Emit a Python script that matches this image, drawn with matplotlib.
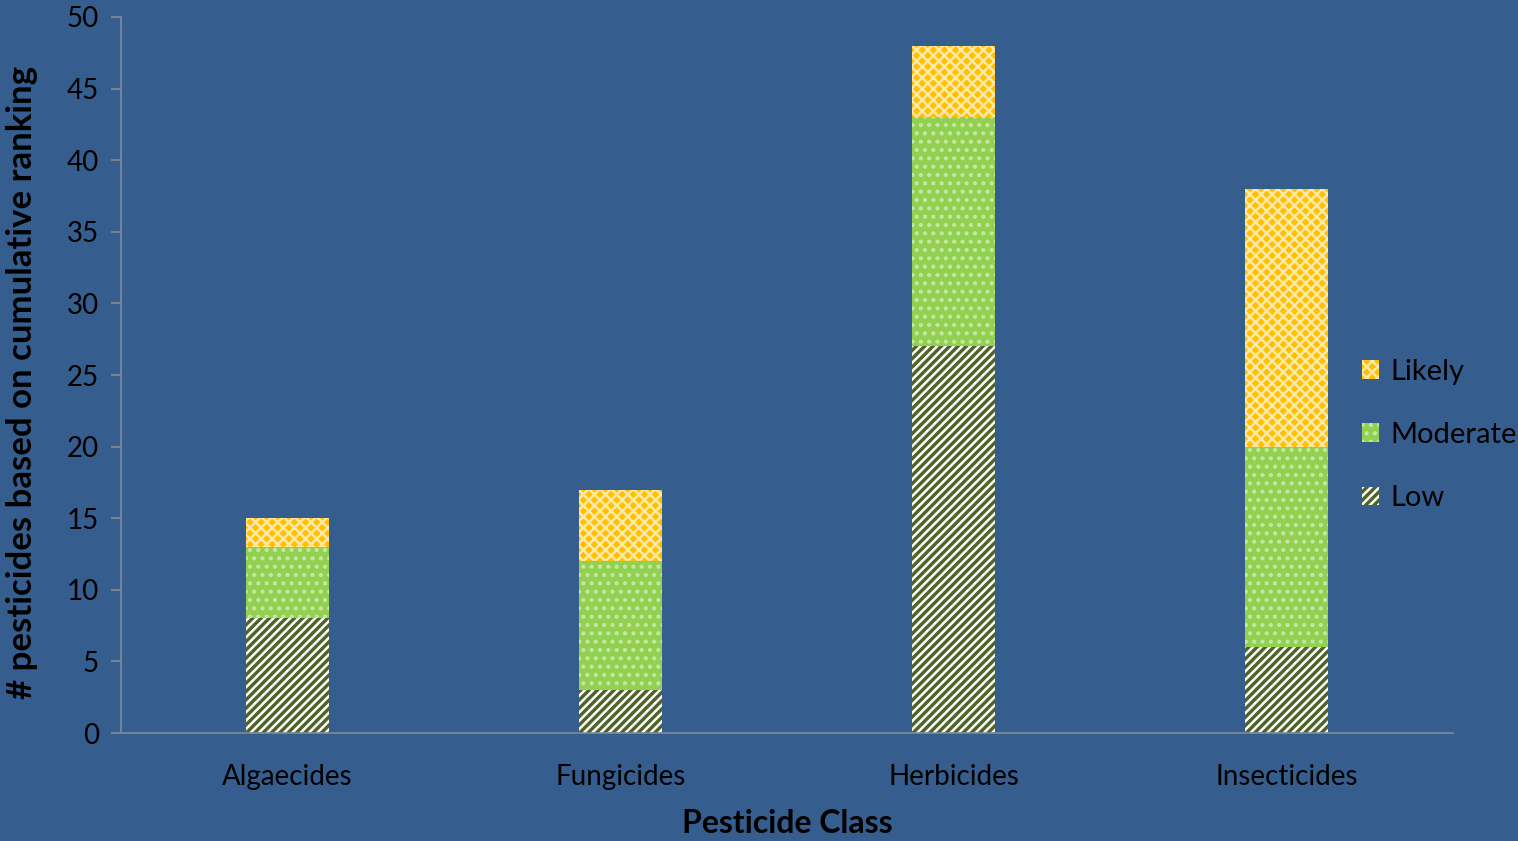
import numpy as np
import matplotlib
matplotlib.use("Agg")
import matplotlib.pyplot as plt

classes = ["Algaecides", "Fungicides", "Herbicides", "Insecticides"]
low = [8, 3, 27, 6]
moderate = [5, 9, 16, 14]
likely = [2, 5, 5, 18]

bg = "#355E8E"
plt.rcParams["font.family"] = ["Lato", "DejaVu Sans"]
plt.rcParams["hatch.linewidth"] = 1.8

fig = plt.figure(figsize=(15.18, 8.41), dpi=100, facecolor=bg)
ax = fig.add_axes([0.0797, 0.1284, 0.8775, 0.8514], facecolor=bg)

x = np.arange(len(classes))
w = 0.25
low_arr = np.array(low)
mod_arr = np.array(moderate)

# stacked bars, white pattern on each fill
b1 = ax.bar(x, low, w, color="#4F6228", edgecolor="white", linewidth=0,
            hatch="////", label="Low")
b2 = ax.bar(x, moderate, w, bottom=low_arr, color="#92D050", edgecolor="#C6E6A4",
            linewidth=0, hatch="..", label="Moderate")
b3 = ax.bar(x, likely, w, bottom=low_arr + mod_arr, color="#FFC000",
            edgecolor="#FFE9A8", linewidth=0, hatch="xxx", label="Likely")

ax.set_xlim(-0.5, 3.5)
ax.set_ylim(0, 50)
ax.set_yticks(range(0, 51, 5))
ax.set_xticks(x)
ax.set_xticklabels(classes)

for side in ["top", "right"]:
    ax.spines[side].set_visible(False)
for side in ["left", "bottom"]:
    ax.spines[side].set_color("#7F8A99")
    ax.spines[side].set_linewidth(1.2)
ax.tick_params(axis="y", colors="#7F8A99", labelcolor="black", labelsize=20,
               length=7, width=1.2, direction="out", pad=9)
ax.tick_params(axis="x", length=0, labelcolor="black", labelsize=20, pad=22)

ax.set_xlabel("Pesticide Class", fontsize=23, fontweight="bold", labelpad=14)
ax.set_ylabel("# pesticides based on cumulative ranking", fontsize=25,
              fontweight="bold")
ax.yaxis.set_label_coords(-0.062, 0.49)

leg = fig.legend(handles=[b3, b2, b1], loc="center left",
                 bbox_to_anchor=(0.897, 0.4828), frameon=False, fontsize=21,
                 handlelength=0.6, handleheight=0.6, handletextpad=0.4,
                 labelspacing=1.28, borderpad=0, borderaxespad=0)

fig.savefig("out.png", dpi=100, facecolor=bg)
